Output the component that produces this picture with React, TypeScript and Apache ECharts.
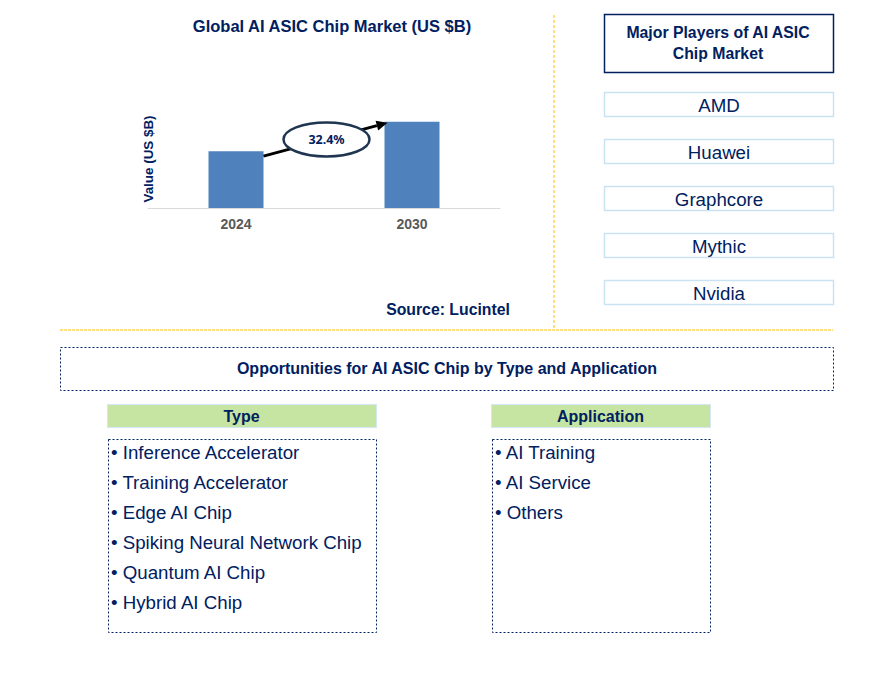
import React, { useEffect, useRef } from "react";
import * as echarts from "echarts";

const years = ["2024", "2030"];
const marketValues = [5.8, 8.8];
const cagrLabel = "32.4%";
const chartTitle = "Global AI ASIC Chip Market (US $B)";
const yAxisName = "Value (US $B)";
const sourceText = "Source: Lucintel";
const playersTitle = "Major Players of AI ASIC\nChip Market";
const players = ["AMD", "Huawei", "Graphcore", "Mythic", "Nvidia"];
const opportunitiesTitle = "Opportunities for AI ASIC Chip by Type and Application";
const typeHeader = "Type";
const applicationHeader = "Application";
const types = [
  "Inference Accelerator",
  "Training Accelerator",
  "Edge AI Chip",
  "Spiking Neural Network Chip",
  "Quantum AI Chip",
  "Hybrid AI Chip",
];
const applications = ["AI Training", "AI Service", "Others"];

const NAVY = "#002060";
const GOLD = "#FFC000";
const FONT = "'Liberation Sans', Arial, sans-serif";
const NARROW = "'Liberation Sans Narrow', 'Arial Narrow', 'Liberation Sans', sans-serif";

function txt(text: string, x: number, y: number, font: string, fill: string, align = "center", z = 10, extra: any = {}) {
  return {
    type: "text",
    x,
    y,
    z,
    style: {
      text,
      font,
      fill,
      align,
      textAlign: align,
      verticalAlign: "middle",
      textVerticalAlign: "middle",
      ...extra,
    },
  };
}

export default function App() {
  const ref = useRef<HTMLDivElement>(null);
  useEffect(() => {
    if (!ref.current) return;
    const chart = echarts.init(ref.current, null, { renderer: "svg" });
    const barWidth = 55;
    chart.setOption({
      animation: false,
      backgroundColor: "#ffffff",
      grid: { left: 148, top: 110, width: 352, height: 98 },
      xAxis: {
        type: "category",
        data: years,
        axisLine: { show: true, lineStyle: { color: "#D9D9D9", width: 1 } },
        axisTick: { show: false },
        axisLabel: { color: "#595959", fontWeight: "bold", fontSize: 14, fontFamily: FONT, margin: 9 },
      },
      yAxis: {
        type: "value",
        min: 0,
        max: 10,
        name: yAxisName,
        nameLocation: "middle",
        nameGap: -7,
        nameRotate: 90,
        nameTextStyle: { color: NAVY, fontWeight: "bold", fontSize: 13.4, fontFamily: FONT },
        axisLine: { show: false },
        axisTick: { show: false },
        axisLabel: { show: false },
        splitLine: { show: false },
      },
      series: [
        {
          type: "bar",
          data: marketValues,
          barWidth,
          itemStyle: { color: "#4F81BD" },
        },
      ],
    });

    const p0 = chart.convertToPixel({ seriesIndex: 0 }, [0, marketValues[0]]) as number[];
    const p1 = chart.convertToPixel({ seriesIndex: 0 }, [1, marketValues[1]]) as number[];
    const sx = p0[0] + barWidth / 2;
    const sy = p0[1] + 5;
    const ex = p1[0] - barWidth / 2 + 3;
    const ey = p1[1] + 1;
    const dx = ex - sx;
    const dy = ey - sy;
    const len = Math.sqrt(dx * dx + dy * dy);
    const ux = dx / len;
    const uy = dy / len;
    const hl = 11;
    const hw = 5;
    const bx = ex - ux * hl;
    const by = ey - uy * hl;
    const cx = (sx + ex) / 2 + 1;
    const cy = (sy + ey) / 2;

    const graphics: any[] = [];
    graphics.push(txt(chartTitle, 332, 26, `bold 16.5px ${FONT}`, NAVY));
    graphics.push({
      type: "line",
      z: 5,
      shape: { x1: sx, y1: sy, x2: bx, y2: by },
      style: { stroke: "#000000", lineWidth: 3 },
    });
    graphics.push({
      type: "polygon",
      z: 5,
      shape: {
        points: [
          [ex, ey],
          [bx - uy * hw, by + ux * hw],
          [bx + uy * hw, by - ux * hw],
        ],
      },
      style: { fill: "#000000" },
    });
    graphics.push({
      type: "ellipse",
      z: 6,
      shape: { cx, cy, rx: 43, ry: 17 },
      style: { fill: "#ffffff", stroke: "#1F3550", lineWidth: 2.5 },
    });
    graphics.push(txt(cagrLabel, cx, cy, `bold 12.5px 'Noto Sans', ${FONT}`, NAVY, "center", 7));
    graphics.push(txt(sourceText, 448, 309, `bold 15.8px ${FONT}`, NAVY));

    graphics.push({
      type: "line",
      z: 1,
      shape: { x1: 554, y1: 15, x2: 554, y2: 328 },
      style: { stroke: GOLD, lineWidth: 1, lineDash: [3, 2] },
    });
    graphics.push({
      type: "line",
      z: 1,
      shape: { x1: 60, y1: 330, x2: 833, y2: 330 },
      style: { stroke: GOLD, lineWidth: 1, lineDash: [3, 1] },
    });

    graphics.push({
      type: "rect",
      z: 2,
      shape: { x: 604.5, y: 14.5, width: 229, height: 58 },
      style: { fill: "#ffffff", stroke: NAVY, lineWidth: 1.5 },
    });
    graphics.push(txt(playersTitle, 718, 43, `bold 15.8px ${FONT}`, NAVY, "center", 10, { lineHeight: 21 }));
    players.forEach((p, i) => {
      const y = 92 + i * 47;
      graphics.push({
        type: "rect",
        z: 2,
        shape: { x: 604.5, y: y + 0.5, width: 229, height: 24 },
        style: { fill: "#ffffff", stroke: "#C9E3F3", lineWidth: 1.5 },
      });
      graphics.push(txt(p, 719, y + 13, `18.7px ${FONT}`, NAVY));
    });

    graphics.push({
      type: "rect",
      z: 2,
      shape: { x: 60.5, y: 347.5, width: 773, height: 43 },
      style: { fill: "#ffffff", stroke: NAVY, lineWidth: 1, lineDash: [2, 2] },
    });
    graphics.push(txt(opportunitiesTitle, 447, 368, `bold 16px ${NARROW}`, NAVY));

    const headers = [
      { text: typeHeader, x: 107, w: 269, items: types },
      { text: applicationHeader, x: 491, w: 219, items: applications },
    ];
    headers.forEach((h) => {
      graphics.push({
        type: "rect",
        z: 2,
        shape: { x: h.x + 0.5, y: 404.5, width: h.w, height: 23 },
        style: { fill: "#C6E5A2", stroke: "#D3E6F4", lineWidth: 1 },
      });
      graphics.push(txt(h.text, h.x + h.w / 2, 416, `bold 16px ${NARROW}`, NAVY));
      graphics.push({
        type: "rect",
        z: 2,
        shape: { x: h.x + 1.5, y: 439.5, width: h.w - 1, height: 193 },
        style: { fill: "#ffffff", stroke: NAVY, lineWidth: 1, lineDash: [2, 2] },
      });
      h.items.forEach((it, i) => {
        graphics.push(txt("\u2022 " + it, h.x + 4, 452.5 + i * 30, `18.7px ${FONT}`, NAVY, "left"));
      });
    });

    chart.setOption({ graphic: graphics });
    return () => chart.dispose();
  }, []);
  return (
    <div
      ref={ref}
      style={{ position: "absolute", left: 0, top: 0, width: 896, height: 673 }}
    />
  );
}
